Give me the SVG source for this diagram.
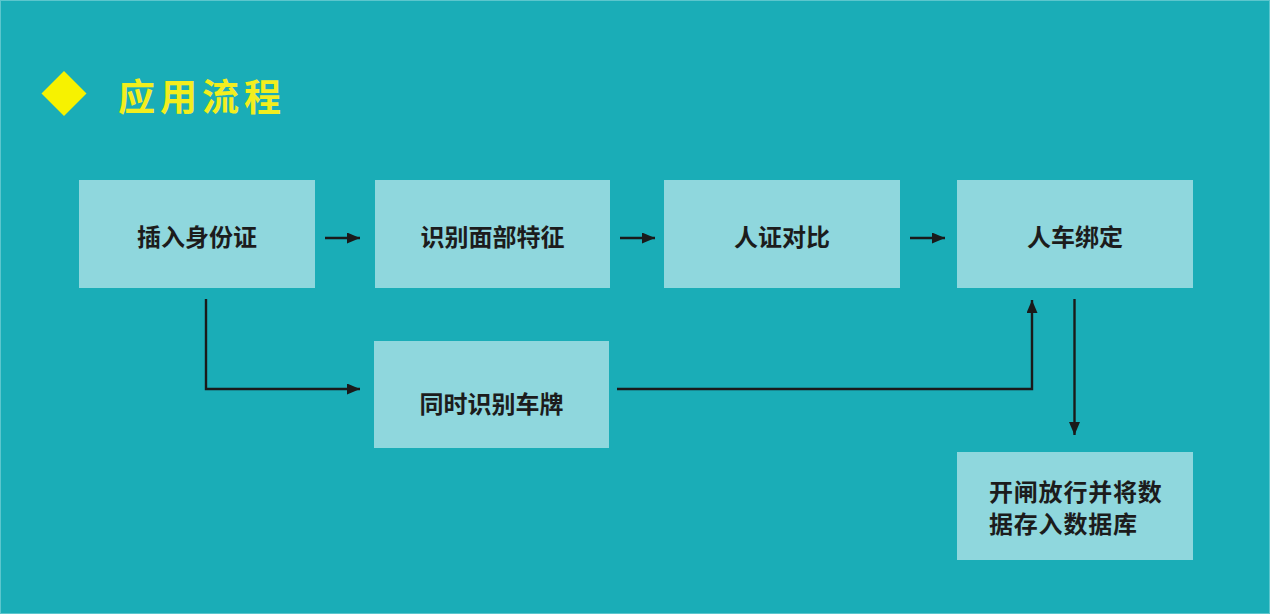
<svg xmlns="http://www.w3.org/2000/svg" width="1270" height="614" viewBox="0 0 1270 614">
<defs>
<style>
.box{fill:#8fd7dd}
.t{font-family:"Noto Sans CJK SC","Noto Sans",sans-serif;font-weight:bold;font-size:24px;fill:#1c1c1c}
.c{text-anchor:middle;dominant-baseline:central}
.ln{fill:none;stroke:#1a1a1a;stroke-width:2.4}
</style>
<marker id="ah" viewBox="0 0 13 11" refX="13" refY="5.5" markerWidth="13" markerHeight="11" markerUnits="userSpaceOnUse" orient="auto">
<path d="M0,0 L13,5.5 L0,11 Z" fill="#1a1a1a"/>
</marker>
</defs>
<rect x="0" y="0" width="1270" height="614" fill="#1aadb7"/>
<rect x="0.5" y="0.5" width="1269" height="613" fill="none" stroke="#5cc6cd" stroke-width="1"/>
<g id="title">
<path d="M64,71 L86.5,93.5 L64,116 L41.5,93.5 Z" fill="#f7f200"/>
<text x="118" y="95" font-family="'Noto Sans CJK SC',sans-serif" font-weight="bold" font-size="37" letter-spacing="5" fill="#f2ee1e" dominant-baseline="central">应用流程</text>
</g>
<g id="n1"><rect class="box" x="79" y="180" width="236" height="108"/><text class="t c" x="197" y="235">插入身份证</text></g>
<g id="n2"><rect class="box" x="375" y="180" width="235" height="108"/><text class="t c" x="492.5" y="235">识别面部特征</text></g>
<g id="n3"><rect class="box" x="664" y="180" width="236" height="108"/><text class="t c" x="782" y="235">人证对比</text></g>
<g id="n4"><rect class="box" x="957" y="180" width="236" height="108"/><text class="t c" x="1075" y="235">人车绑定</text></g>
<g id="n5"><rect class="box" x="374" y="341" width="235" height="107"/><text class="t c" x="491.5" y="402">同时识别车牌</text></g>
<g id="n6"><rect class="box" x="957" y="452" width="236" height="108"/>
<text class="t" x="989" y="490" font-size="23" letter-spacing="0.8" dominant-baseline="central">开闸放行并将数</text>
<text class="t" x="989" y="522" font-size="23" letter-spacing="0.8" dominant-baseline="central">据存入数据库</text></g>
<g id="connectors">
<path class="ln" d="M325,238 L360,238" marker-end="url(#ah)"/>
<path class="ln" d="M620,238 L655,238" marker-end="url(#ah)"/>
<path class="ln" d="M910,238 L945,238" marker-end="url(#ah)"/>
<path class="ln" d="M206,299 L206,389 L360,389" marker-end="url(#ah)"/>
<path class="ln" d="M617,389 L1032,389 L1032,300" marker-end="url(#ah)"/>
<path class="ln" d="M1074.5,299 L1074.5,435" marker-end="url(#ah)"/>
</g>
</svg>
